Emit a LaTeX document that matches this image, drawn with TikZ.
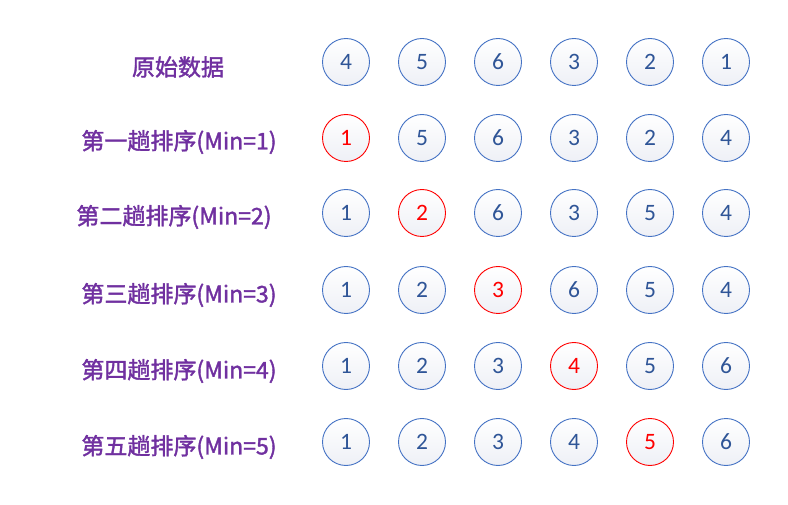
\documentclass[tikz,border=0pt]{standalone}
\usepackage{fontspec}
\setmainfont{Carlito}
\newfontfamily\cjk{Noto Sans CJK SC}[FakeBold=1.6]
\definecolor{lblpurple}{HTML}{7030A0}
\definecolor{cblue}{HTML}{4472C4}
\definecolor{tblue}{HTML}{2F5597}
\definecolor{cred}{HTML}{FF0000}
\definecolor{cfill}{HTML}{EEF0F6}
\tikzset{
  ball/.style={circle, draw=cblue, line width=0.9pt, minimum size=47pt, inner sep=0pt,
    top color=white, bottom color=cfill, text=tblue, font=\fontsize{23.5}{23.5}\selectfont},
  hot/.style={draw=cred, text=cred},
  lbl/.style={text=lblpurple, font=\cjk\fontsize{23}{23}\selectfont, anchor=center}
}
\begin{document}
\begin{tikzpicture}[x=1pt,y=-1pt]
\fill[white] (0,0) rectangle (788,505);
\useasboundingbox (0,0) rectangle (788,505);
% labels
\node[lbl] (l0) at (178,67) {原始数据};
\node[lbl] (l1) at (179,142) {第一趟排序(Min=1)};
\node[lbl] (l2) at (174,217) {第二趟排序(Min=2)};
\node[lbl] (l3) at (179,295) {第三趟排序(Min=3)};
\node[lbl] (l4) at (179,371) {第四趟排序(Min=4)};
\node[lbl] (l5) at (179,447) {第五趟排序(Min=5)};
% rows
\def\xs{{346,422,498,574,650,726}}
\def\ys{{62,138,213,290,366,442}}
\foreach \row/\vals/\h in {0/{4,5,6,3,2,1}/-1, 1/{1,5,6,3,2,4}/0, 2/{1,2,6,3,5,4}/1, 3/{1,2,3,6,5,4}/2, 4/{1,2,3,4,5,6}/3, 5/{1,2,3,4,5,6}/4}{
  \foreach \v [count=\c from 0] in \vals {
    \pgfmathsetmacro{\xx}{\xs[\c]}
    \pgfmathsetmacro{\yy}{\ys[\row]}
    \ifnum\c=\h
      \node[ball,hot] (n\row\c) at (\xx,\yy) {\v};
    \else
      \node[ball] (n\row\c) at (\xx,\yy) {\v};
    \fi
  }
}
\end{tikzpicture}
\end{document}
